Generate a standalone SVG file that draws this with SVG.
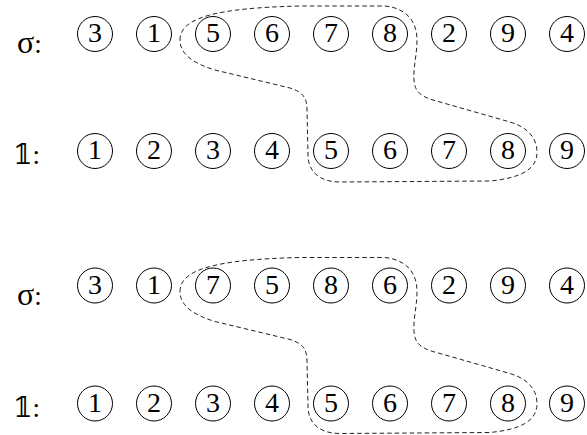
<svg xmlns="http://www.w3.org/2000/svg" width="587" height="435" viewBox="0 0 587 435">
<defs>
<style>
circle{fill:none;stroke:#000;stroke-width:1}
.reg{fill:none;stroke:#222;stroke-width:1;stroke-dasharray:4.5,3}
.t{font-family:"Liberation Serif","Times New Roman",serif;font-size:28px;text-anchor:middle;fill:#000}
.l{font-family:"Liberation Serif","DejaVu Serif",serif;font-size:27px;fill:#000}
.s{font-size:32px}
.one{font-family:"DejaVu Serif",serif;font-size:28px}
</style>
<path id="blob" d="M180,40 C180,18 215,8 300,6 L385,6 C405,8 417,20 417,40 C417,55 413,68 414,80 C415,92 420,97 440,102 L510,122 C530,128 537,140 537,152 C537,170 520,178 490,181 L340,182 C320,182 308,172 308,155 L307,110 C307,98 303,92 290,88 L215,70 C195,64 180,55 180,40 Z"/>
</defs>
<rect width="587" height="435" fill="#fff"/>
<g id="labels">
<text class="l" x="17" y="53"><tspan class="s">σ</tspan>:</text>
<text class="l" x="13" y="164"><tspan class="one">𝟙</tspan>:</text>
<text class="l" x="17" y="304.5"><tspan class="s">σ</tspan>:</text>
<text class="l" x="13" y="416.5"><tspan class="one">𝟙</tspan>:</text>
</g>
<g id="nodes">
<g id="a1"><circle cx="95" cy="34" r="17.5"/><text class="t" x="95" y="42">3</text></g>
<g id="a2"><circle cx="154" cy="34" r="17.5"/><text class="t" x="154" y="42">1</text></g>
<g id="a3"><circle cx="213" cy="34" r="17.5"/><text class="t" x="213" y="42">5</text></g>
<g id="a4"><circle cx="272" cy="34" r="17.5"/><text class="t" x="272" y="42">6</text></g>
<g id="a5"><circle cx="331" cy="34" r="17.5"/><text class="t" x="331" y="42">7</text></g>
<g id="a6"><circle cx="390" cy="34" r="17.5"/><text class="t" x="390" y="42">8</text></g>
<g id="a7"><circle cx="449" cy="34" r="17.5"/><text class="t" x="449" y="42">2</text></g>
<g id="a8"><circle cx="508" cy="34" r="17.5"/><text class="t" x="508" y="42">9</text></g>
<g id="a9"><circle cx="567" cy="34" r="17.5"/><text class="t" x="567" y="42">4</text></g>
<g id="b1"><circle cx="95" cy="151" r="17.5"/><text class="t" x="95" y="159">1</text></g>
<g id="b2"><circle cx="154" cy="151" r="17.5"/><text class="t" x="154" y="159">2</text></g>
<g id="b3"><circle cx="213" cy="151" r="17.5"/><text class="t" x="213" y="159">3</text></g>
<g id="b4"><circle cx="272" cy="151" r="17.5"/><text class="t" x="272" y="159">4</text></g>
<g id="b5"><circle cx="331" cy="151" r="17.5"/><text class="t" x="331" y="159">5</text></g>
<g id="b6"><circle cx="390" cy="151" r="17.5"/><text class="t" x="390" y="159">6</text></g>
<g id="b7"><circle cx="449" cy="151" r="17.5"/><text class="t" x="449" y="159">7</text></g>
<g id="b8"><circle cx="508" cy="151" r="17.5"/><text class="t" x="508" y="159">8</text></g>
<g id="b9"><circle cx="567" cy="151" r="17.5"/><text class="t" x="567" y="159">9</text></g>
<g id="c1"><circle cx="95" cy="285.5" r="17.5"/><text class="t" x="95" y="293.5">3</text></g>
<g id="c2"><circle cx="154" cy="285.5" r="17.5"/><text class="t" x="154" y="293.5">1</text></g>
<g id="c3"><circle cx="213" cy="285.5" r="17.5"/><text class="t" x="213" y="293.5">7</text></g>
<g id="c4"><circle cx="272" cy="285.5" r="17.5"/><text class="t" x="272" y="293.5">5</text></g>
<g id="c5"><circle cx="331" cy="285.5" r="17.5"/><text class="t" x="331" y="293.5">8</text></g>
<g id="c6"><circle cx="390" cy="285.5" r="17.5"/><text class="t" x="390" y="293.5">6</text></g>
<g id="c7"><circle cx="449" cy="285.5" r="17.5"/><text class="t" x="449" y="293.5">2</text></g>
<g id="c8"><circle cx="508" cy="285.5" r="17.5"/><text class="t" x="508" y="293.5">9</text></g>
<g id="c9"><circle cx="567" cy="285.5" r="17.5"/><text class="t" x="567" y="293.5">4</text></g>
<g id="d1"><circle cx="95" cy="403.5" r="17.5"/><text class="t" x="95" y="411.5">1</text></g>
<g id="d2"><circle cx="154" cy="403.5" r="17.5"/><text class="t" x="154" y="411.5">2</text></g>
<g id="d3"><circle cx="213" cy="403.5" r="17.5"/><text class="t" x="213" y="411.5">3</text></g>
<g id="d4"><circle cx="272" cy="403.5" r="17.5"/><text class="t" x="272" y="411.5">4</text></g>
<g id="d5"><circle cx="331" cy="403.5" r="17.5"/><text class="t" x="331" y="411.5">5</text></g>
<g id="d6"><circle cx="390" cy="403.5" r="17.5"/><text class="t" x="390" y="411.5">6</text></g>
<g id="d7"><circle cx="449" cy="403.5" r="17.5"/><text class="t" x="449" y="411.5">7</text></g>
<g id="d8"><circle cx="508" cy="403.5" r="17.5"/><text class="t" x="508" y="411.5">8</text></g>
<g id="d9"><circle cx="567" cy="403.5" r="17.5"/><text class="t" x="567" y="411.5">9</text></g>
</g>
<g id="connectors">
<use href="#blob" class="reg"/>
<use href="#blob" class="reg" transform="translate(0,251.5)"/>
</g>
</svg>
